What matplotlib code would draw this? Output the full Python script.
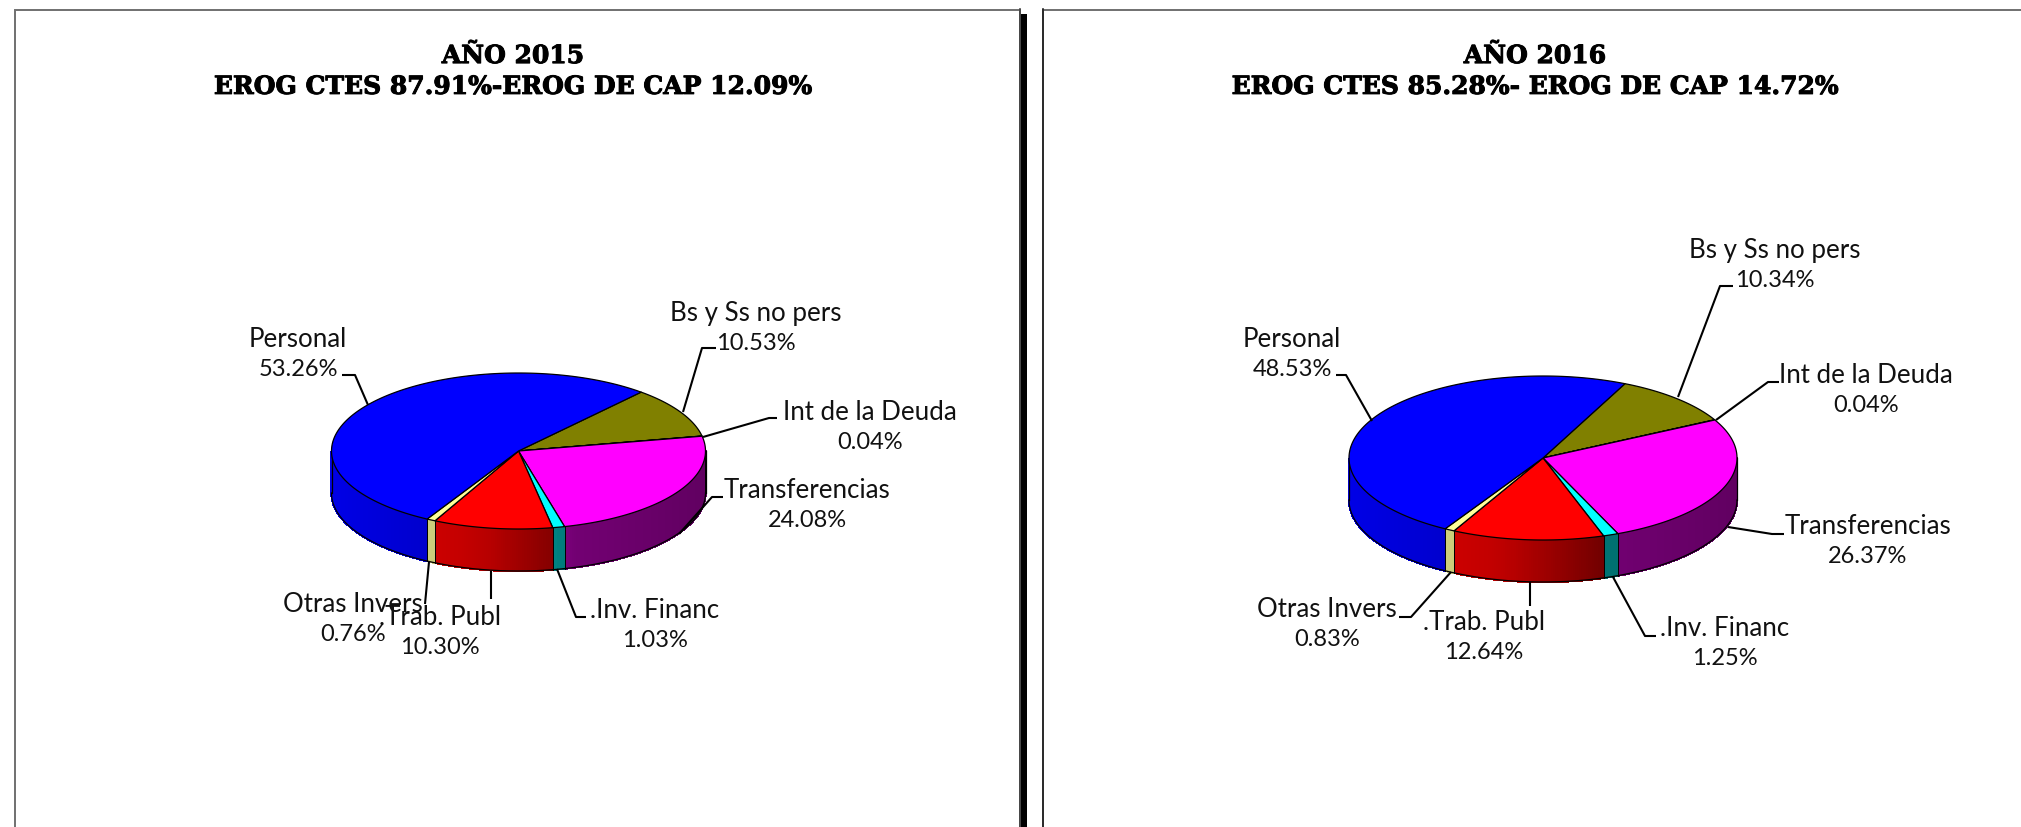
import matplotlib
matplotlib.use("Agg")
import matplotlib.pyplot as plt
import matplotlib.patheffects as pe
import numpy as np
from matplotlib.patches import Polygon, Rectangle

# slices, clockwise from the start angle
categories = ["Bs y Ss no pers", "Int de la Deuda", "Transferencias", ".Inv. Financ",
              ".Trab. Publ", "Otras Invers", "Personal"]
values_2015 = [10.53, 0.04, 24.08, 1.03, 10.30, 0.76, 53.26]
values_2016 = [10.34, 0.04, 26.37, 1.25, 12.64, 0.83, 48.53]
title_2015 = "AÑO 2015\nEROG CTES 87.91%-EROG DE CAP 12.09%"
title_2016 = "AÑO 2016\nEROG CTES 85.28%- EROG DE CAP 14.72%"

colors = ["#808000", "#000080", "#ff00ff", "#00ffff", "#ff0000", "#ffff99", "#0000ff"]

# label centres and leader lines, pixels of the picture, same order as categories
layout_2015 = [
    ((756, 329), [(716, 349), (702, 349), (683, 413)]),
    ((870, 428), [(777, 419), (769, 419), (703, 438)]),
    ((807, 506), [(723, 498), (712, 498), (679, 535)]),
    ((655, 626), [(586, 618), (576, 618), (557, 570)]),
    ((440, 633), [(491, 600), (491, 572)]),
    ((353, 620), [(425, 605), (429, 563)]),
    ((298, 355), [(342, 376), (355, 376), (368, 406)]),
]
layout_2016 = [
    ((1775, 266), [(1733, 287), (1720, 287), (1678, 398)]),
    ((1866, 391), [(1779, 383), (1768, 383), (1716, 421)]),
    ((1868, 542), [(1784, 535), (1772, 535), (1728, 528)]),
    ((1725, 644), [(1656, 637), (1645, 637), (1613, 578)]),
    ((1484, 638), [(1530, 607), (1530, 583)]),
    ((1327, 625), [(1399, 618), (1411, 618), (1451, 573)]),
    ((1292, 355), [(1336, 376), (1346, 376), (1372, 422)]),
]

W, H = 2021, 828
LABEL_FONT = "Lato"
TITLE_FONT = "DejaVu Serif"


def ellipse(cx, cy, rx, ry, a):
    return cx + rx * np.cos(a), cy - ry * np.sin(a)


def draw_pie(ax, cx, cy, rx, ry, depth, start, values):
    angles = start - np.cumsum([0] + values) * 3.6
    # side of the pie first, narrow strips so the shade changes from left to right
    for i, col in enumerate(colors):
        a1, a2 = np.radians(angles[i]), np.radians(angles[i + 1])
        t = np.linspace(a1, a2, max(int(abs(a2 - a1) * 90), 2))
        t = t[np.sin(t) <= 0.001]
        if len(t) < 2:
            continue
        rgb = np.array(matplotlib.colors.to_rgb(col))
        for j in range(len(t) - 1):
            x0, y0 = ellipse(cx, cy, rx, ry, t[j])
            x1, y1 = ellipse(cx, cy, rx, ry, t[j + 1])
            u = (x0 - cx + rx) / (2 * rx)
            shade = np.interp(u, [0, 0.35, 0.42, 0.65, 1], [0.9, 0.77, 0.72, 0.45, 0.38])
            c = rgb * shade
            ax.add_patch(Polygon([(x0, y0), (x1, y1), (x1, y1 + depth), (x0, y0 + depth)],
                                 facecolor=c, edgecolor=c, lw=1, antialiased=False, zorder=2))
        x0, y0 = ellipse(cx, cy, rx, ry, t[0])
        x1, y1 = ellipse(cx, cy, rx, ry, t[-1])
        ax.plot([x0, x0], [y0, y0 + depth], color="black", lw=0.7, zorder=3)
        ax.plot([x1, x1], [y1, y1 + depth], color="black", lw=0.7, zorder=3)
    # outline of the lower rim
    t = np.radians(np.linspace(180, 360, 200))
    x, y = ellipse(cx, cy, rx, ry, t)
    ax.plot(x, y + depth, color="black", lw=0.9, zorder=3)
    ax.plot([x[0], x[0]], [y[0], y[0] + depth], color="black", lw=0.9, zorder=3)
    ax.plot([x[-1], x[-1]], [y[-1], y[-1] + depth], color="black", lw=0.9, zorder=3)
    # top of the pie
    for i, col in enumerate(colors):
        t = np.radians(np.linspace(angles[i], angles[i + 1], 120))
        x, y = ellipse(cx, cy, rx, ry, t)
        pts = [(cx, cy)] + list(zip(x, y))
        ax.add_patch(Polygon(pts, closed=True, facecolor=col, edgecolor="black",
                             lw=0.9, joinstyle="round", zorder=4))


def draw_labels(ax, values, layout):
    for name, val, (pos, line) in zip(categories, values, layout):
        xs = [p[0] for p in line]
        ys = [p[1] for p in line]
        ax.plot(xs, ys, color="black", lw=1.5, zorder=5, solid_capstyle="butt")
        # the percentages are narrower than the names in this font pairing
        ax.text(pos[0], pos[1] - 7.5, name, ha="center", va="baseline",
                fontsize=18.6, family=LABEL_FONT, color="#111111", zorder=6)
        ax.text(pos[0], pos[1] + 21.5, "%.2f%%" % val, ha="center", va="baseline",
                fontsize=17, family=LABEL_FONT, color="#111111", zorder=6)


fig = plt.figure(figsize=(W / 100, H / 100), dpi=100)
ax = fig.add_axes([0, 0, 1, 1])
ax.set_xlim(0, W)
ax.set_ylim(H, 0)
ax.axis("off")

# panels, they run off the bottom of the picture
ax.add_patch(Rectangle((14.5, 10.5), 1005, 830, facecolor="white", edgecolor="#707070", lw=1.4))
ax.add_patch(Rectangle((1043, 10.5), 1000, 830, facecolor="white", edgecolor="#707070", lw=1.4))
ax.plot([1043, 1043], [10, 840], color="#202020", lw=1.2)
ax.plot([1020, 1020], [10, 840], color="#404040", lw=1.2)
ax.add_patch(Rectangle((1021, 15), 6, 830, facecolor="black", edgecolor="none"))

for x, title in [(513, title_2015), (1535, title_2016)]:
    ax.text(x, 72.5, title, ha="center", va="center", fontsize=18, family=TITLE_FONT,
            fontweight="bold", linespacing=1.36,
            path_effects=[pe.withStroke(linewidth=0.7, foreground="black")])

draw_pie(ax, 518.5, 452, 187, 78, 42, 49, values_2015)
draw_pie(ax, 1543, 459, 194, 82, 42, 65, values_2016)
draw_labels(ax, values_2015, layout_2015)
draw_labels(ax, values_2016, layout_2016)

fig.savefig("out.png", dpi=100)
